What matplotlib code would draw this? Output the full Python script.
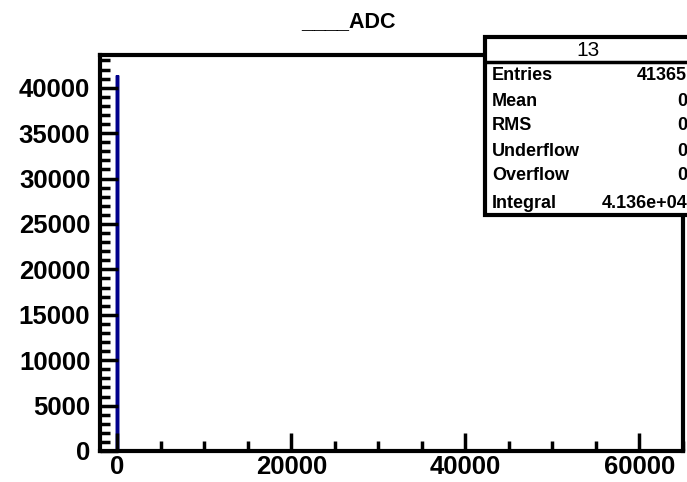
import numpy as np
import matplotlib.pyplot as plt
from matplotlib.patches import Rectangle
from matplotlib.ticker import MultipleLocator

plt.rcParams['font.family'] = ['Liberation Sans', 'DejaVu Sans']

# histogram data
edges = [0, 1]
counts = [41365]
hist_name = '13'
stat_labels = ['Entries', 'Mean', 'RMS', 'Underflow', 'Overflow', 'Integral']
stat_values = ['41365', '0', '0', '0', '0', '4.136e+04']

W, H = 687, 482
fig = plt.figure(figsize=(W / 100, H / 100), dpi=100)
ax = fig.add_axes([100 / W, 1 - 451 / H, 583 / W, 396 / H])

ax.stairs(counts, edges, color='#00008b', linewidth=2.5)

ax.set_xlim(-2000, 65000)
ax.set_ylim(0, 43600)
ax.xaxis.set_major_locator(MultipleLocator(20000))
ax.xaxis.set_minor_locator(MultipleLocator(5000))
ax.yaxis.set_major_locator(MultipleLocator(5000))
ax.yaxis.set_minor_locator(MultipleLocator(1000))

for s in ax.spines.values():
    s.set_linewidth(3)
ax.tick_params(which='both', direction='in', width=2.5, top=False, right=False)
ax.tick_params(which='major', length=13, labelsize=18.5)
ax.tick_params(which='minor', length=7)
ax.tick_params(axis='y', pad=7)
ax.tick_params(axis='x', pad=3)
for lab in ax.get_xticklabels() + ax.get_yticklabels():
    lab.set_fontweight('bold')

fig.text(348 / W, 1 - 22 / H, '____ADC', ha='center', va='center',
         fontsize=15.5, fontweight='bold')

# stats box
x0, y0, y1 = 485 / W, 1 - 215 / H, 1 - 37 / H
fig.patches.append(Rectangle((x0, y0), 1.05 - x0, y1 - y0, transform=fig.transFigure,
                             facecolor='white', edgecolor='black', linewidth=3,
                             zorder=5))
fig.add_artist(plt.Line2D([x0, 1.05], [1 - 62 / H, 1 - 62 / H], transform=fig.transFigure,
                          color='black', linewidth=2.5, zorder=6))
fig.text(588 / W, 1 - 50 / H, hist_name, ha='center', va='center', fontsize=15,
         zorder=7)
row_y = [76, 101, 126, 151, 176, 203]
for yy, lab, val in zip(row_y, stat_labels, stat_values):
    fig.text(492 / W, 1 - yy / H, lab, ha='left', va='center', fontsize=13,
             fontweight='bold', zorder=7)
    fig.text(687 / W, 1 - yy / H, val, ha='right', va='center', fontsize=13,
             fontweight='bold', zorder=7)

fig.savefig('out.png', dpi=100)
